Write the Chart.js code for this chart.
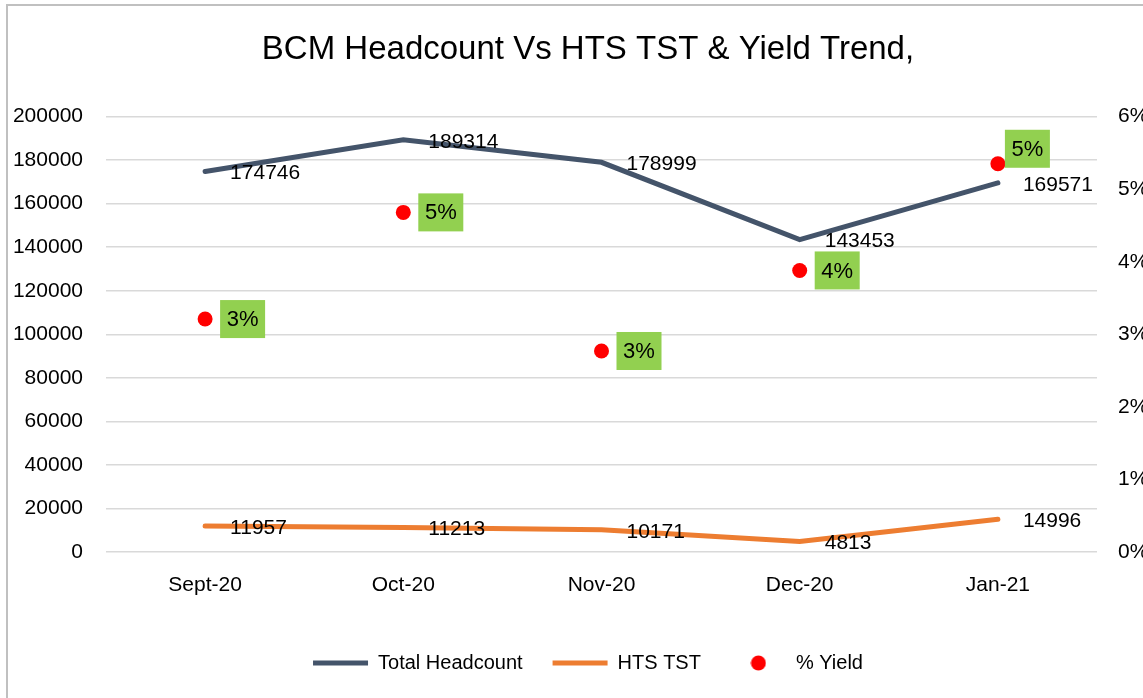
<!DOCTYPE html>
<html>
<head>
<meta charset="utf-8">
<script src="https://cdn.jsdelivr.net/npm/chart.js@4"></script>
<style>
  html, body { margin: 0; padding: 0; background: #fff; overflow: hidden; }
  #frame { position: absolute; left: 6px; top: 4px; width: 1200px; height: 760px; border-left: 2px solid #c0c0c0; border-top: 2px solid #c0c0c0; }
  #wrap { position: absolute; left: 8px; top: 6px; }
</style>
</head>
<body>
<div id="frame"></div>
<div id="wrap"><canvas id="myChart" width="1160" height="692"></canvas></div>
<script>
const months = ['Sept-20', 'Oct-20', 'Nov-20', 'Dec-20', 'Jan-21'];
const totalHeadcount = [174746, 189314, 178999, 143453, 169571];
const htsTst = [11957, 11213, 10171, 4813, 14996];
const yieldPct = [0.0321, 0.0468, 0.0277, 0.0388, 0.0535];

// small moves for the green yield boxes (Excel pushed the last one up)
const yieldBoxNudge = [[0, 0], [0, 0], [0, 0], [0, 0], [-8, -15]];

const fam = "'Liberation Sans', Arial, sans-serif";
const labelFont = "21px " + fam;

Chart.defaults.font.family = fam;
Chart.defaults.color = '#000';

// red dot for the legend
const dot = document.createElement('canvas');
dot.width = 16; dot.height = 16;
const dctx = dot.getContext('2d');
dctx.fillStyle = '#FF0000';
dctx.beginPath();
dctx.arc(8, 8, 7.5, 0, Math.PI * 2);
dctx.fill();

const pointLabels = {
  id: 'pointLabels',
  afterDatasetsDraw(chart) {
    const ctx = chart.ctx;
    ctx.save();
    ctx.font = labelFont;
    ctx.textBaseline = 'middle';
    chart.data.datasets.forEach((ds, i) => {
      const meta = chart.getDatasetMeta(i);
      meta.data.forEach((pt, j) => {
        const v = ds.data[j];
        if (ds.yAxisID === 'y1') {
          const bx = pt.x + 15 + yieldBoxNudge[j][0];
          const by = pt.y - 19 + yieldBoxNudge[j][1];
          ctx.fillStyle = '#92D050';
          ctx.fillRect(bx, by, 45, 38);
          ctx.fillStyle = '#000';
          ctx.textAlign = 'center';
          ctx.font = "22px " + fam;
          ctx.fillText(Math.round(v * 100) + '%', bx + 22.5, by + 20);
        } else {
          ctx.fillStyle = '#000';
          ctx.textAlign = 'left';
          ctx.font = labelFont;
          ctx.fillText(String(v), pt.x + 25, pt.y + 2);
        }
      });
    });
    ctx.restore();
  }
};

const ctx = document.getElementById('myChart');
const myChart = new Chart(ctx, {
  type: 'line',
  data: {
    labels: months,
    datasets: [{
      label: 'Total Headcount',
      data: totalHeadcount,
      borderColor: '#44546A',
      backgroundColor: '#44546A',
      borderWidth: 5,
      borderCapStyle: 'round',
      pointRadius: 0,
      tension: 0,
      yAxisID: 'y'
    }, {
      label: 'HTS TST',
      data: htsTst,
      borderColor: '#ED7D31',
      backgroundColor: '#ED7D31',
      borderWidth: 5,
      borderCapStyle: 'round',
      pointRadius: 0,
      tension: 0,
      yAxisID: 'y'
    }, {
      label: '% Yield',
      data: yieldPct,
      showLine: false,
      borderColor: '#FF0000',
      backgroundColor: '#FF0000',
      pointRadius: 7.5,
      pointBorderWidth: 0,
      yAxisID: 'y1'
    }]
  },
  options: {
    responsive: false,
    animation: false,
    layout: { padding: { top: 0, bottom: 15, left: 0, right: 0 } },
    plugins: {
      title: {
        display: true,
        text: 'BCM Headcount Vs HTS TST & Yield Trend,',
        color: '#000',
        font: { size: 33, weight: 'normal', family: fam },
        padding: { top: 24, bottom: 47 }
      },
      legend: {
        position: 'bottom',
        labels: {
          usePointStyle: true,
          pointStyleWidth: 55,
          boxHeight: 14,
          padding: 30,
          color: '#000',
          font: { size: 20, family: fam },
          generateLabels(chart) {
            const items = Chart.defaults.plugins.legend.labels.generateLabels(chart);
            items[0].pointStyle = 'line';
            items[1].pointStyle = 'line';
            items[2].pointStyle = dot;
            return items;
          }
        }
      },
      tooltip: { enabled: false }
    },
    scales: {
      x: {
        offset: true,
        grid: { display: false, drawTicks: false },
        border: { display: false },
        ticks: { padding: 21, font: { size: 21, family: fam }, color: '#000' },
        afterFit(scale) { scale.height = 71; }
      },
      y: {
        position: 'left',
        min: 0,
        max: 200000,
        ticks: {
          stepSize: 20000,
          padding: 23,
          font: { size: 21, family: fam },
          color: '#000',
          callback: (v) => String(v)
        },
        grid: { color: '#d9d9d9', lineWidth: 1.5, drawTicks: false },
        border: { display: false },
        afterFit(scale) { scale.width = 98; }
      },
      y1: {
        position: 'right',
        min: 0,
        max: 0.06,
        ticks: {
          stepSize: 0.01,
          padding: 21,
          font: { size: 21, family: fam },
          color: '#000',
          callback: (v) => Math.round(v * 100) + '%'
        },
        grid: { display: false, drawTicks: false },
        border: { display: false },
        afterFit(scale) { scale.width = 71; }
      }
    }
  },
  plugins: [pointLabels]
});
</script>
</body>
</html>
